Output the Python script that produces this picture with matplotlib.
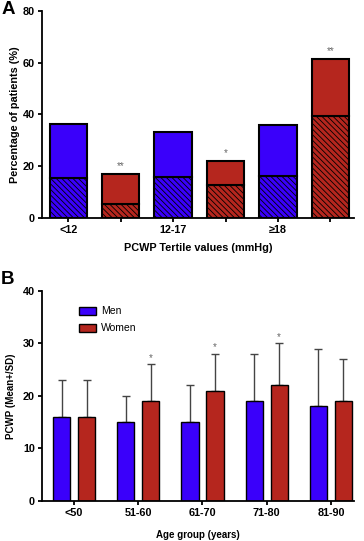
"""PCWP by tertile (A) and by age group (B), men vs women."""
import matplotlib
matplotlib.use("Agg")
import matplotlib.pyplot as plt
import numpy as np

plt.rcParams["font.family"] = ["Liberation Sans", "DejaVu Sans"]
plt.rcParams["hatch.linewidth"] = 0.6

BLUE = "#3a00fa"
RED = "#b5261e"
STAR = "#666666"

# panel A: stacked bars, total % and hatched part
A_TOTAL = [36.2, 17.0, 33.1, 21.9, 35.9, 61.5]
A_HATCH = [15.4, 5.4, 15.8, 12.9, 16.4, 39.5]
A_COLORS = [BLUE, RED, BLUE, RED, BLUE, RED]
A_TICKLABELS = ["<12", "", "12-17", "", "≥18", ""]
A_STARS = ["", "**", "", "*", "", "**"]

# panel B: mean + SD by age group
AGE_GROUPS = ["<50", "51-60", "61-70", "71-80", "81-90"]
MEN_MEAN = [16, 15, 15, 19, 18]
MEN_SD = [7, 5, 7, 9, 11]
WOMEN_MEAN = [16, 19, 21, 22, 19]
WOMEN_SD = [7, 7, 7, 8, 8]
B_STARS = ["", "*", "*", "*", ""]

fig = plt.figure(figsize=(3.64, 5.41), dpi=100)

# ---- panel A ----
axA = fig.add_axes([42 / 364, 1 - 218 / 541, 312 / 364, 207 / 541])
x = np.arange(len(A_TOTAL))
axA.bar(x, A_HATCH, 0.71, color=A_COLORS, edgecolor="black",
        linewidth=1.5, hatch="\\" * 6, zorder=2)
axA.bar(x, np.subtract(A_TOTAL, A_HATCH), 0.71, bottom=A_HATCH,
        color=A_COLORS, edgecolor="black", linewidth=1.5, zorder=2)
for xi, t, s in zip(x, A_TOTAL, A_STARS):
    if s:
        axA.annotate(s, (xi, t), xytext=(0, 2), textcoords="offset points",
                     ha="center", va="bottom", fontsize=7, color=STAR)
axA.set_xlim(-0.5, 5.45)
axA.set_ylim(0, 80)
axA.set_yticks([0, 20, 40, 60, 80])
axA.set_xticks(x)
axA.set_xticklabels(A_TICKLABELS)
axA.set_ylabel("Percentage of patients (%)", fontsize=7.8, fontweight="bold",
               labelpad=2)
axA.set_xlabel("PCWP Tertile values (mmHg)", fontsize=7.8, fontweight="bold",
               labelpad=6)

# ---- panel B ----
axB = fig.add_axes([42 / 364, 1 - 501 / 541, 312 / 364, 210.3 / 541])
g = np.arange(len(AGE_GROUPS))
off, w = 0.195, 0.27
err_kw = dict(fmt="none", ecolor="#444444", elinewidth=1.0, capsize=3.2,
              capthick=1.0, zorder=1)
axB.errorbar(g - off, MEN_MEAN, yerr=[np.zeros(5), MEN_SD], **err_kw)
axB.errorbar(g + off, WOMEN_MEAN, yerr=[np.zeros(5), WOMEN_SD], **err_kw)
axB.bar(g - off, MEN_MEAN, w, color=BLUE, edgecolor="black", linewidth=1.0,
        label="Men", zorder=2)
axB.bar(g + off, WOMEN_MEAN, w, color=RED, edgecolor="black", linewidth=1.0,
        label="Women", zorder=2)
for gi, m, sd, s in zip(g, WOMEN_MEAN, WOMEN_SD, B_STARS):
    if s:
        axB.annotate(s, (gi + off, m + sd), xytext=(0, 1),
                     textcoords="offset points", ha="center", va="bottom",
                     fontsize=7, color=STAR)
axB.set_xlim(-0.5, 4.36)
axB.set_ylim(0, 40)
axB.set_yticks([0, 10, 20, 30, 40])
axB.set_xticks(g)
axB.set_xticklabels(AGE_GROUPS)
axB.set_ylabel("PCWP (Mean+/SD)", fontsize=7, fontweight="bold", labelpad=5)
axB.set_xlabel("Age group (years)", fontsize=7, fontweight="bold",
               labelpad=9)
axB.legend(loc="upper left", bbox_to_anchor=(0.12, 0.925), frameon=False,
           fontsize=7.5, handlelength=1.6, handleheight=0.8,
           handletextpad=0.45, labelspacing=0.65, borderpad=0,
           borderaxespad=0)

for ax in (axA, axB):
    ax.spines["top"].set_visible(False)
    ax.spines["right"].set_visible(False)
    ax.spines["left"].set_linewidth(1.3)
    ax.spines["bottom"].set_linewidth(1.3)
    ax.tick_params(direction="out", length=3, width=1.3, labelsize=7.8, pad=2)
    for lab in ax.get_xticklabels() + ax.get_yticklabels():
        lab.set_fontweight("bold")

fig.text(0.003, 0.998, "A", fontsize=13.5, fontweight="bold", va="top")
fig.text(0.003, 1 - 271 / 541, "B", fontsize=13.5, fontweight="bold", va="top")

fig.savefig("out.png", dpi=100)
